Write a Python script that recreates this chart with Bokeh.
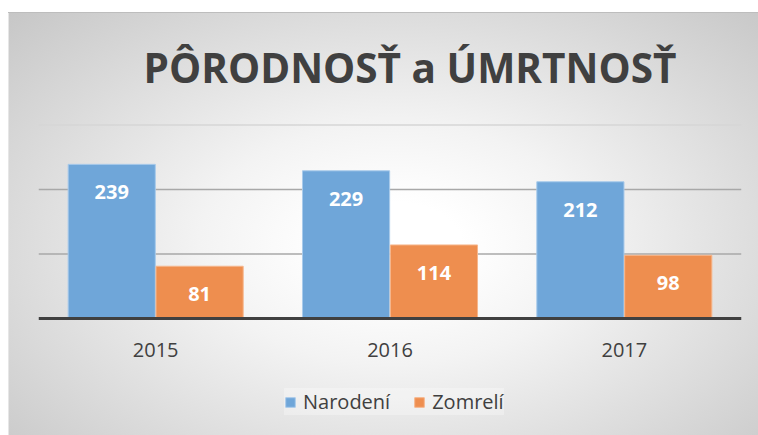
from bokeh.plotting import figure
from bokeh.models import ColumnDataSource, FactorRange, Range1d, Label, Legend, LegendItem, Span
from bokeh.transform import dodge
from bokeh.core.properties import value
from bokeh.embed import file_html
from bokeh.resources import INLINE

years = ["2015", "2016", "2017"]
narodeni = [239, 229, 212]
zomreli = [81, 114, 98]
grid_ticks = [100, 200, 300]
title_text = "PÔRODNOSŤ a ÚMRTNOSŤ"
series_names = ["Narodení", "Zomrelí"]

src = ColumnDataSource(dict(
    years=years, nar=narodeni, zom=zomreli,
    nar_t=[str(v) for v in narodeni], zom_t=[str(v) for v in zomreli],
    base=[0] * len(years),
))

# frame covers the whole canvas height; 0 sits on the baseline
p = figure(width=758, height=435, x_range=FactorRange(*years), y_range=Range1d(-181.4, 493.0),
           output_backend="svg", toolbar_location=None,
           min_border=0, min_border_left=38, min_border_right=17)
p.background_fill_alpha = 0
p.border_fill_alpha = 0
p.outline_line_color = None
p.styles = {
    "background": ("linear-gradient(#ffffff,#ffffff) 0 0/100% 12px no-repeat, "
                   "linear-gradient(#ffffff,#ffffff) 0 0/8px 100% no-repeat, "
                   "linear-gradient(#bdbdbd,#bdbdbd) 8px 12px/100% 1px no-repeat, "
                   "linear-gradient(#e6e6e6,#e6e6e6) 8px 12px/1px 100% no-repeat, "
                   "radial-gradient(ellipse farthest-corner at 52% 56%, #ffffff 12%, #f3f3f3 35%, #c4c4c4 100%)"),
}

p.xgrid.visible = False
p.ygrid.visible = False
p.xaxis.visible = False
p.yaxis.visible = False

grid_colors = ["#a8a8a8", "#a8a8a8", "#d6d6d6"]
for t, c in zip(grid_ticks, grid_colors):
    p.add_layout(Span(location=t, dimension="width", line_color=c, line_width=1.3, level="underlay"))

blue = "#6fa6d9"
orange = "#ee8e4f"
r1 = p.vbar(x=dodge("years", -0.1875, range=p.x_range), top="nar", bottom="base", width=0.372,
            source=src, fill_color=blue, line_color="#a9cbeb", line_width=1)
r2 = p.vbar(x=dodge("years", 0.1875, range=p.x_range), top="zom", bottom="base", width=0.372,
            source=src, fill_color=orange, line_color="#f6b68c", line_width=1)

# baseline (category axis line)
p.add_layout(Span(location=0, dimension="width", line_color="#404040", line_width=3))

for col, txt, off in (("nar", "nar_t", -0.1875), ("zom", "zom_t", 0.1875)):
    p.text(x=dodge("years", off, range=p.x_range), y=col, text=txt, source=src,
           text_color="white", text_font=value("Open Sans"), text_font_style="bold",
           text_font_size="20px", text_align="center", text_baseline="middle", y_offset=28)

# category labels
p.text(x="years", y="base", text="years", source=src, text_color="#404040",
       text_font=value("Open Sans"), text_font_size="20px", text_align="center",
       text_baseline="middle", y_offset=32)

p.add_layout(Label(x=371.5, y=368, x_units="screen", y_units="screen", text=title_text,
                   text_font="Open Sans", text_font_style="bold", text_font_size="40.5px",
                   text_color="#404040", text_align="center", text_baseline="alphabetic"))

legend = Legend(items=[LegendItem(label=series_names[0], renderers=[r1]),
                       LegendItem(label=series_names[1], renderers=[r2])],
                orientation="horizontal", location=(246, 20),
                label_text_font="Open Sans", label_text_font_size="20px", label_text_color="#404040",
                glyph_width=12, glyph_height=12, label_standoff=7, spacing=23,
                padding=12, margin=0,
                background_fill_color="white", background_fill_alpha=0.3,
                border_line_color=None)
p.add_layout(legend, "center")

open("out.html", "w").write(file_html(p, INLINE))
